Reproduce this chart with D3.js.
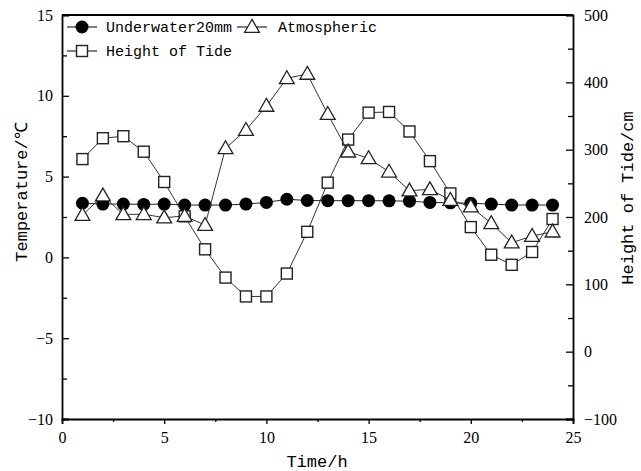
<!DOCTYPE html>
<html>
<head>
<meta charset="utf-8">
<script src="https://cdn.jsdelivr.net/npm/d3@7"></script>
</head>
<body style="margin:0;background:#fff">
<svg id="chart" width="641" height="471"></svg>
<script>
// hours of the day
const hours = [1, 2, 3, 4, 5, 6, 7, 8, 9, 10, 11, 12, 13, 14, 15, 16, 17, 18, 19, 20, 21, 22, 23, 24];
// temperature series (degC), left axis
const underwater = [3.35, 3.3, 3.3, 3.28, 3.3, 3.24, 3.24, 3.24, 3.3, 3.4, 3.6, 3.52, 3.51, 3.51, 3.51, 3.5, 3.48, 3.4, 3.38, 3.35, 3.3, 3.24, 3.24, 3.24];
const atmospheric = [2.62, 3.82, 2.66, 2.67, 2.46, 2.56, 2.0, 6.75, 7.88, 9.37, 11.08, 11.35, 8.87, 6.54, 6.13, 5.3, 4.13, 4.21, 3.55, 3.14, 2.11, 0.91, 1.32, 1.59];
// tide height (cm), right axis
const tide = [286, 317, 320, 297, 252, 201, 152, 110, 82, 82, 116, 178, 251, 315, 355, 356, 327, 283, 235, 185, 144, 129, 148, 197];

const xTicks = [0, 5, 10, 15, 20, 25];
const tempTicks = [-10, -5, 0, 5, 10, 15];
const tideTicks = [-100, 0, 100, 200, 300, 400, 500];

const serif = "'Liberation Serif', serif";
const mono = "'Liberation Mono', monospace";

const margin = { top: 15, right: 68, bottom: 52, left: 62 };
const width = 641 - margin.left - margin.right;
const height = 471 - margin.top - margin.bottom;

const svg = d3.select("#chart");
const g = svg.append("g").attr("transform", `translate(${margin.left},${margin.top})`);

const x = d3.scaleLinear().domain([0, 25]).range([0, width]);
const yT = d3.scaleLinear().domain([-10, 15]).range([height, 0]);
const yH = d3.scaleLinear().domain([-100, 500]).range([height, 0]);

// minor ticks first
g.append("g").attr("transform", `translate(0,${height})`)
    .call(d3.axisBottom(x).tickValues(d3.range(2.5, 25, 5)).tickSize(3).tickFormat(""))
    .call(a => a.select(".domain").remove());
g.append("g")
    .call(d3.axisLeft(yT).tickValues(d3.range(-7.5, 15, 5)).tickSize(-5).tickFormat(""))
    .call(a => a.select(".domain").remove());
g.append("g").attr("transform", `translate(${width},0)`)
    .call(d3.axisRight(yH).tickValues(d3.range(-50, 500, 100)).tickSize(-5).tickFormat(""))
    .call(a => a.select(".domain").remove());

// major axes
const axes = [
    g.append("g").attr("transform", `translate(0,${height})`)
        .call(d3.axisBottom(x).tickValues(xTicks).tickSize(5).tickPadding(8)),
    g.append("g")
        .call(d3.axisLeft(yT).tickValues(tempTicks).tickSize(-7).tickPadding(9)),
    g.append("g").attr("transform", `translate(${width},0)`)
        .call(d3.axisRight(yH).tickValues(tideTicks).tickSize(-7).tickPadding(11))
];
axes.forEach(a => a.attr("font-family", serif).attr("font-size", 16));

g.selectAll(".domain").attr("stroke-width", 1.8);
g.selectAll(".tick line").attr("stroke-width", 1.3);
g.selectAll(".tick text").attr("fill", "#000");

// top frame line
g.append("line")
    .attr("x1", 0).attr("x2", width).attr("y1", 0).attr("y2", 0)
    .attr("stroke", "#000").attr("stroke-width", 1.8);

// axis titles
const title = (sel, size) => sel.attr("font-family", mono).attr("font-size", size).attr("fill", "#000");
svg.append("text").call(title, 17)
    .attr("text-anchor", "middle")
    .attr("transform", "translate(27,192) rotate(-90)")
    .text("Temperature/℃");
svg.append("text").call(title, 17)
    .attr("text-anchor", "middle")
    .attr("x", 317).attr("y", 467)
    .text("Time/h");
svg.append("text").call(title, 17)
    .attr("text-anchor", "middle")
    .attr("transform", "translate(633,198) rotate(-90)")
    .text("Height of Tide/cm");

const triangle = d3.symbol().type(d3.symbolTriangle).size(95);

// lines
const lineT = d3.line().x((d, i) => x(hours[i])).y(d => yT(d));
const lineH = d3.line().x((d, i) => x(hours[i])).y(d => yH(d));

g.append("path").datum(underwater).attr("d", lineT)
    .attr("fill", "none").attr("stroke", "#222").attr("stroke-width", 1);
g.selectAll(".uw").data(underwater).enter().append("circle")
    .attr("cx", (d, i) => x(hours[i])).attr("cy", d => yT(d))
    .attr("r", 6.5).attr("fill", "#000");

g.append("path").datum(tide).attr("d", lineH)
    .attr("fill", "none").attr("stroke", "#333").attr("stroke-width", 1);
g.selectAll(".td").data(tide).enter().append("rect")
    .attr("x", (d, i) => x(hours[i]) - 5.5).attr("y", d => yH(d) - 5.5)
    .attr("width", 11).attr("height", 11)
    .attr("fill", "#fff").attr("stroke", "#222").attr("stroke-width", 1.4);

g.append("path").datum(atmospheric).attr("d", lineT)
    .attr("fill", "none").attr("stroke", "#333").attr("stroke-width", 1);
g.selectAll(".at").data(atmospheric).enter().append("path")
    .attr("d", triangle)
    .attr("transform", (d, i) => `translate(${x(hours[i])},${yT(d) + 1})`)
    .attr("fill", "#fff").attr("stroke", "#222").attr("stroke-width", 1.3);

// legend
const legend = svg.append("g");
legend.append("line").attr("x1", 67).attr("x2", 97).attr("y1", 27).attr("y2", 27)
    .attr("stroke", "#000").attr("stroke-width", 1);
legend.append("circle").attr("cx", 82).attr("cy", 27).attr("r", 6.5).attr("fill", "#000");
legend.append("text").call(title, 15).attr("x", 106).attr("y", 32).text("Underwater20mm");

legend.append("line").attr("x1", 237).attr("x2", 267).attr("y1", 27).attr("y2", 27)
    .attr("stroke", "#000").attr("stroke-width", 1);
legend.append("path").attr("d", triangle).attr("transform", "translate(252,28)")
    .attr("fill", "#fff").attr("stroke", "#222").attr("stroke-width", 1.3);
legend.append("text").call(title, 15).attr("x", 278).attr("y", 32).text("Atmospheric");

legend.append("line").attr("x1", 67).attr("x2", 97).attr("y1", 51).attr("y2", 51)
    .attr("stroke", "#000").attr("stroke-width", 1);
legend.append("rect").attr("x", 76.5).attr("y", 45.5).attr("width", 11).attr("height", 11)
    .attr("fill", "#fff").attr("stroke", "#222").attr("stroke-width", 1.4);
legend.append("text").call(title, 15).attr("x", 106).attr("y", 56).text("Height of Tide");
</script>
</body>
</html>
